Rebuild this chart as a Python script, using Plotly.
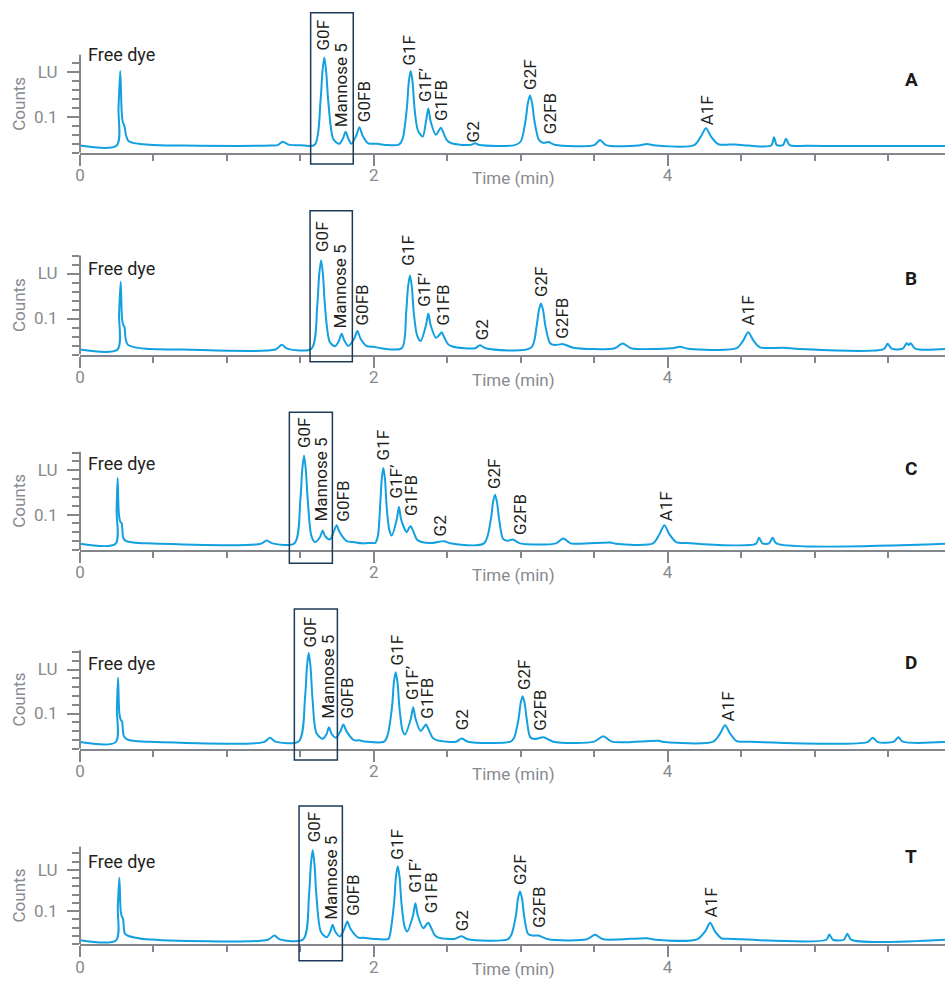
import plotly.graph_objects as go

# ---------------------------------------------------------------------------
# Chromatogram traces (retention time in min, fluorescence counts)
# ---------------------------------------------------------------------------
time_a = [0.000, 0.250, 0.262, 0.274, 0.284, 0.292, 0.302, 0.314, 0.330, 0.360, 0.410, 0.500, 0.700,
          1.300, 1.345, 1.380, 1.420, 1.500, 1.598, 1.637, 1.650, 1.663, 1.676, 1.690, 1.725, 1.765,
          1.790, 1.808, 1.826, 1.848, 1.880, 1.902, 1.924, 1.962, 2.020, 2.080, 2.170, 2.195, 2.225,
          2.238, 2.251, 2.264, 2.277, 2.300, 2.333, 2.355, 2.371, 2.387, 2.423, 2.445, 2.457, 2.472,
          2.500, 2.530, 2.600, 2.660, 2.689, 2.720, 2.960, 3.000, 3.033, 3.048, 3.063, 3.078, 3.093,
          3.125, 3.154, 3.188, 3.230, 3.500, 3.540, 3.580, 3.800, 3.858, 3.920, 4.180, 4.226, 4.261,
          4.296, 4.345, 4.459, 4.550, 4.705, 4.724, 4.743, 4.785, 4.806, 4.830, 4.950, 5.888]
counts_a = [0.036, 0.036, 0.120, 0.203, 0.110, 0.088, 0.080, 0.058, 0.046, 0.042, 0.0395, 0.0375, 0.036,
            0.036, 0.037, 0.0445, 0.038, 0.0365, 0.038, 0.135, 0.200, 0.233, 0.200, 0.135, 0.050, 0.040,
            0.052, 0.067, 0.052, 0.040, 0.058, 0.077, 0.058, 0.041, 0.040, 0.0375, 0.038, 0.050, 0.120,
            0.178, 0.203, 0.178, 0.120, 0.070, 0.056, 0.090, 0.119, 0.090, 0.060, 0.071, 0.076, 0.066,
            0.047, 0.041, 0.0375, 0.0375, 0.041, 0.037, 0.037, 0.045, 0.092, 0.130, 0.148, 0.130, 0.092,
            0.048, 0.042, 0.044, 0.038, 0.037, 0.0485, 0.037, 0.036, 0.0395, 0.036, 0.037, 0.056, 0.0747,
            0.056, 0.039, 0.0385, 0.036, 0.036, 0.0546, 0.037, 0.037, 0.051, 0.037, 0.0355, 0.035]

time_b = [0.000, 0.255, 0.266, 0.277, 0.286, 0.294, 0.302, 0.312, 0.325, 0.360, 0.450, 0.700,
          1.330, 1.373, 1.410, 1.575, 1.615, 1.628, 1.641, 1.654, 1.667, 1.700, 1.736, 1.763, 1.781,
          1.799, 1.826, 1.866, 1.888, 1.910, 1.952, 1.997, 2.050, 2.190, 2.220, 2.233, 2.246, 2.259,
          2.272, 2.295, 2.319, 2.355, 2.371, 2.387, 2.423, 2.447, 2.462, 2.477, 2.505, 2.530, 2.620,
          2.690, 2.723, 2.760, 3.070, 3.108, 3.123, 3.138, 3.153, 3.168, 3.200, 3.230, 3.290, 3.358,
          3.640, 3.694, 3.750, 4.030, 4.084, 4.140, 4.470, 4.514, 4.549, 4.584, 4.629, 4.788, 4.900,
          5.470, 5.498, 5.525, 5.600, 5.627, 5.641, 5.655, 5.685, 5.888]
counts_b = [0.031, 0.031, 0.110, 0.1815, 0.100, 0.086, 0.082, 0.052, 0.042, 0.037, 0.033, 0.031,
            0.031, 0.0415, 0.033, 0.033, 0.130, 0.197, 0.2296, 0.197, 0.130, 0.048, 0.0385, 0.051, 0.066,
            0.051, 0.039, 0.055, 0.072, 0.055, 0.0385, 0.037, 0.034, 0.034, 0.113, 0.170, 0.1956, 0.170,
            0.113, 0.062, 0.050, 0.085, 0.111, 0.085, 0.057, 0.064, 0.0696, 0.060, 0.043, 0.0385, 0.034,
            0.034, 0.0407, 0.034, 0.035, 0.083, 0.117, 0.1333, 0.117, 0.083, 0.045, 0.041, 0.043, 0.035,
            0.034, 0.0444, 0.034, 0.034, 0.037, 0.033, 0.034, 0.051, 0.0696, 0.051, 0.036, 0.035, 0.032,
            0.032, 0.0437, 0.033, 0.033, 0.045, 0.041, 0.045, 0.033, 0.032]

time_c = [0.000, 0.242, 0.249, 0.256, 0.265, 0.276, 0.284, 0.295, 0.315, 0.360, 0.450,
          1.230, 1.271, 1.310, 1.460, 1.500, 1.5125, 1.525, 1.5375, 1.550, 1.575, 1.600, 1.635, 1.652,
          1.669, 1.702, 1.728, 1.747, 1.766, 1.815, 1.860, 1.920, 1.985, 2.010, 2.028, 2.043, 2.054,
          2.065, 2.076, 2.087, 2.105, 2.122, 2.156, 2.171, 2.186, 2.224, 2.240, 2.251, 2.265, 2.295,
          2.326, 2.400, 2.478, 2.520, 2.750, 2.797, 2.811, 2.825, 2.839, 2.853, 2.880, 2.910, 2.946,
          2.995, 3.240, 3.290, 3.340, 3.608, 3.650, 3.900, 3.945, 3.978, 4.011, 4.062, 4.130, 4.200,
          4.600, 4.622, 4.645, 4.690, 4.715, 4.740, 5.888]
counts_c = [0.034, 0.034, 0.110, 0.1825, 0.100, 0.083, 0.080, 0.047, 0.040, 0.037, 0.035,
            0.034, 0.0416, 0.035, 0.035, 0.134, 0.200, 0.2333, 0.200, 0.134, 0.052, 0.038, 0.050, 0.064,
            0.051, 0.044, 0.062, 0.076, 0.061, 0.040, 0.038, 0.035, 0.036, 0.036, 0.052, 0.120, 0.180,
            0.205, 0.180, 0.120, 0.066, 0.0528, 0.089, 0.1173, 0.089, 0.060, 0.070, 0.0737, 0.065, 0.043,
            0.038, 0.036, 0.040, 0.035, 0.035, 0.090, 0.127, 0.145, 0.127, 0.090, 0.045, 0.041, 0.0438,
            0.035, 0.035, 0.046, 0.035, 0.037, 0.034, 0.035, 0.056, 0.076, 0.056, 0.037, 0.036, 0.034,
            0.034, 0.0476, 0.035, 0.035, 0.0476, 0.035, 0.034]

time_d = [0.000, 0.243, 0.251, 0.259, 0.268, 0.278, 0.286, 0.298, 0.320, 0.360, 0.450,
          1.250, 1.293, 1.330, 1.490, 1.532, 1.5445, 1.557, 1.5695, 1.582, 1.610, 1.652, 1.678, 1.695,
          1.712, 1.743, 1.773, 1.793, 1.813, 1.865, 1.900, 1.950, 2.070, 2.093, 2.124, 2.1365, 2.149,
          2.1615, 2.174, 2.195, 2.212, 2.252, 2.268, 2.284, 2.319, 2.340, 2.355, 2.370, 2.400, 2.428,
          2.500, 2.560, 2.598, 2.640, 2.930, 2.955, 2.985, 2.999, 3.013, 3.027, 3.041, 3.065, 3.095,
          3.154, 3.222, 3.500, 3.562, 3.620, 3.937, 3.980, 4.310, 4.358, 4.391, 4.424, 4.470, 4.520,
          5.360, 5.396, 5.430, 5.540, 5.571, 5.600, 5.888]
counts_d = [0.035, 0.035, 0.110, 0.181, 0.100, 0.085, 0.082, 0.049, 0.041, 0.038, 0.036,
            0.035, 0.0448, 0.036, 0.037, 0.137, 0.205, 0.238, 0.205, 0.137, 0.055, 0.0425, 0.053, 0.069,
            0.054, 0.045, 0.060, 0.075, 0.060, 0.0394, 0.039, 0.036, 0.036, 0.050, 0.115, 0.170, 0.194,
            0.170, 0.115, 0.062, 0.0523, 0.088, 0.1143, 0.088, 0.060, 0.069, 0.075, 0.066, 0.045, 0.0394,
            0.036, 0.036, 0.043, 0.036, 0.036, 0.045, 0.087, 0.123, 0.1393, 0.123, 0.087, 0.046, 0.042,
            0.046, 0.036, 0.036, 0.0485, 0.036, 0.038, 0.035, 0.036, 0.055, 0.0735, 0.055, 0.037, 0.036,
            0.035, 0.0448, 0.035, 0.036, 0.046, 0.036, 0.035]

time_t = [0.000, 0.246, 0.257, 0.268, 0.277, 0.285, 0.293, 0.305, 0.330, 0.380, 0.450,
          1.280, 1.323, 1.360, 1.520, 1.559, 1.5715, 1.584, 1.5965, 1.609, 1.640, 1.679, 1.703, 1.720,
          1.737, 1.770, 1.800, 1.820, 1.840, 1.895, 1.930, 2.000, 2.100, 2.108, 2.138, 2.1505, 2.163,
          2.1755, 2.188, 2.210, 2.228, 2.267, 2.283, 2.299, 2.337, 2.356, 2.371, 2.386, 2.415, 2.439,
          2.550, 2.598, 2.640, 2.910, 2.935, 2.967, 2.981, 2.995, 3.009, 3.023, 3.050, 3.080, 3.120,
          3.188, 3.450, 3.506, 3.560, 3.858, 3.920, 4.200, 4.257, 4.289, 4.321, 4.368, 4.410, 5.080,
          5.101, 5.125, 5.200, 5.223, 5.250, 5.888]
counts_t = [0.030, 0.030, 0.110, 0.181, 0.100, 0.087, 0.082, 0.046, 0.040, 0.036, 0.032,
            0.031, 0.0413, 0.032, 0.032, 0.139, 0.212, 0.248, 0.212, 0.139, 0.050, 0.037, 0.050, 0.067,
            0.051, 0.039, 0.058, 0.075, 0.058, 0.036, 0.036, 0.033, 0.033, 0.040, 0.120, 0.182, 0.2087,
            0.182, 0.120, 0.062, 0.051, 0.090, 0.1193, 0.090, 0.0589, 0.067, 0.072, 0.063, 0.042, 0.036,
            0.033, 0.0396, 0.032, 0.032, 0.042, 0.089, 0.130, 0.1476, 0.130, 0.089, 0.045, 0.041, 0.0413,
            0.032, 0.032, 0.043, 0.032, 0.0348, 0.031, 0.032, 0.052, 0.072, 0.052, 0.034, 0.0335, 0.031,
            0.0437, 0.031, 0.031, 0.0454, 0.031, 0.031]

# ---------------------------------------------------------------------------
# Peak annotations: glycan names, and where each name sits (time, counts)
# ---------------------------------------------------------------------------
peak_names = ["G0F", "Mannose 5", "G0FB", "G1F", "G1F\u2019", "G1FB", "G2", "G2F", "G2FB", "A1F"]

label_time_a = [1.656, 1.777, 1.929, 2.242, 2.353, 2.457, 2.673, 3.059, 3.204, 4.266]
label_counts_a = [0.246, 0.0747, 0.0859, 0.2125, 0.1306, 0.0895, 0.0412, 0.158, 0.0597, 0.0783]
label_time_b = [1.652, 1.770, 1.918, 2.235, 2.342, 2.469, 2.734, 3.143, 3.279, 4.549]
label_counts_b = [0.246, 0.0756, 0.0829, 0.2149, 0.1238, 0.0829, 0.0496, 0.1459, 0.0533, 0.0829]
label_time_c = [1.525, 1.638, 1.792, 2.060, 2.151, 2.258, 2.451, 2.818, 2.995, 3.989]
label_counts_c = [0.2467, 0.0812, 0.0812, 0.2203, 0.1339, 0.0948, 0.0474, 0.1564, 0.0526, 0.0826]
label_time_d = [1.566, 1.690, 1.815, 2.156, 2.258, 2.360, 2.598, 3.018, 3.131, 4.413]
label_counts_d = [0.247, 0.0864, 0.0864, 0.2075, 0.128, 0.0864, 0.0598, 0.1507, 0.0598, 0.0803]
label_time_t = [1.593, 1.713, 1.856, 2.156, 2.280, 2.389, 2.598, 2.995, 3.127, 4.293]
label_counts_t = [0.2628, 0.0758, 0.0872, 0.2225, 0.142, 0.0937, 0.0493, 0.162, 0.0575, 0.0816]

# "Free dye" label height (counts) per run
free_dye_counts = [0.240, 0.211, 0.215, 0.2136, 0.220]

# Window around G0F / Mannose 5 (time span, counts span)
window_time = [[1.570, 1.860], [1.566, 1.854], [1.425, 1.718], [1.459, 1.752], [1.491, 1.786]]
window_counts = [[-0.0053, 0.333], [0.004, 0.3396], [-0.010, 0.3308], [-0.0057, 0.3375], [-0.0196, 0.354]]

panel_names = ["A", "B", "C", "D", "T"]
panel_name_counts = [0.183, 0.190, 0.203, 0.215, 0.233]

x_major_ticks = [0, 2, 4]
x_minor_ticks = [0.5, 1.0, 1.5, 2.5, 3.0, 3.5, 4.5, 5.0, 5.5]
y_major_ticks = [0.1, 0.2]
y_major_text = ["0.1", "LU"]
y_minor_ticks = [0.02, 0.04, 0.06, 0.08, 0.12, 0.14, 0.16, 0.18, 0.22, 0.24]
y_axis_top = [0.239, 0.240, 0.242, 0.244, 0.256]

TIME_MAX = 5.888
Y_LO, Y_HI = 0.02, 0.32

# ---------------------------------------------------------------------------
# Layout geometry (pixels in the 945 x 984 page)
# ---------------------------------------------------------------------------
W, H = 945, 984
PLOT_LEFT = 80
axis_line_px = [152.7, 354.5, 550.0, 748.7, 944.3]   # x-axis line of each run
px_per_count = [447, 450, 443, 440, 414]             # vertical scale of each run

LINE_BLUE = "#12a0e0"
AXIS_GRAY = "#83878b"
TEXT_GRAY = "#878a8e"
INK = "#231f20"
BOX_NAVY = "#1d3a57"
FONT = "Roboto, 'Open Sans', sans-serif"

runs = [
    (time_a, counts_a, label_time_a, label_counts_a),
    (time_b, counts_b, label_time_b, label_counts_b),
    (time_c, counts_c, label_time_c, label_counts_c),
    (time_d, counts_d, label_time_d, label_counts_d),
    (time_t, counts_t, label_time_t, label_counts_t),
]

fig = go.Figure()
annotations = []
shapes = []
layout_axes = {}

for i, (t, c, lt, lc) in enumerate(runs):
    n = "" if i == 0 else str(i + 1)
    xa, ya = "x" + n, "y" + n

    fig.add_trace(go.Scatter(
        x=t, y=c, xaxis=xa, yaxis=ya, mode="lines",
        line=dict(color=LINE_BLUE, width=2, shape="spline", smoothing=0.8),
        hoverinfo="skip", showlegend=False,
    ))

    bottom = 1 - axis_line_px[i] / H
    top = bottom + (Y_HI - Y_LO) * px_per_count[i] / H

    layout_axes["xaxis" + n] = dict(
        domain=[PLOT_LEFT / W, 1.0], range=[0, TIME_MAX], anchor=ya, automargin=False,
        showline=True, linecolor=AXIS_GRAY, linewidth=2,
        showgrid=False, zeroline=False,
        ticks="outside", tickmode="array", tickvals=x_major_ticks,
        ticktext=[str(v) for v in x_major_ticks],
        ticklen=11, tickwidth=2, tickcolor=AXIS_GRAY, ticklabelstandoff=-5,
        tickfont=dict(family=FONT, size=17, color=TEXT_GRAY),
        minor=dict(tickmode="array", tickvals=x_minor_ticks, ticks="outside",
                   ticklen=6, tickwidth=2, tickcolor=AXIS_GRAY),
        fixedrange=True,
    )
    layout_axes["yaxis" + n] = dict(
        domain=[bottom, top], range=[Y_LO, Y_HI], anchor=xa, automargin=False,
        showline=False, showgrid=False, zeroline=False,
        ticks="outside", tickmode="array", tickvals=y_major_ticks, ticktext=y_major_text,
        ticklen=12, tickwidth=2, tickcolor=AXIS_GRAY, ticklabelstandoff=6,
        tickfont=dict(family=FONT, size=17, color=TEXT_GRAY),
        minor=dict(tickmode="array", tickvals=[v for v in y_minor_ticks if v <= y_axis_top[i] + 1e-9],
                   ticks="outside", ticklen=7, tickwidth=2, tickcolor=AXIS_GRAY),
        fixedrange=True,
    )

    # vertical counts axis, drawn only over the calibrated span
    shapes.append(dict(type="line", xref=xa + " domain", yref=ya, x0=0, x1=0,
                       y0=Y_LO, y1=y_axis_top[i], line=dict(color=AXIS_GRAY, width=2)))

    # window around G0F / Mannose 5
    w0, w1 = window_counts[i]
    shapes.append(dict(type="rect", xref=xa, yref=ya + " domain",
                       x0=window_time[i][0], x1=window_time[i][1],
                       y0=(w0 - Y_LO) / (Y_HI - Y_LO), y1=(w1 - Y_LO) / (Y_HI - Y_LO),
                       line=dict(color=BOX_NAVY, width=1.5), fillcolor="rgba(0,0,0,0)"))

    # peak names, rotated
    for name, px, py in zip(peak_names, lt, lc):
        annotations.append(dict(
            x=px, y=py, xref=xa, yref=ya, text=name, showarrow=False,
            textangle=-90, xanchor="center", yanchor="bottom", borderpad=0,
            font=dict(family=FONT, size=17, color=INK),
        ))

    annotations.append(dict(
        x=0.039, y=free_dye_counts[i], xref=xa, yref=ya, text="Free dye", showarrow=False,
        xanchor="left", yanchor="middle", font=dict(family=FONT, size=18, color=INK),
    ))

    # y-axis title
    annotations.append(dict(
        x=19 / W, y=(Y_LO + y_axis_top[i]) / 2, xref="paper", yref=ya, text="Counts",
        showarrow=False, textangle=-90, xanchor="center", yanchor="middle",
        font=dict(family=FONT, size=17, color=TEXT_GRAY),
    ))

    # x-axis title
    annotations.append(dict(
        x=513 / W, y=Y_LO, xref="paper", yref=ya, yshift=-25, text="Time (min)",
        showarrow=False, xanchor="center", yanchor="middle",
        font=dict(family=FONT, size=17, color=TEXT_GRAY),
    ))

    # run letter
    annotations.append(dict(
        x=911 / W, y=panel_name_counts[i], xref="paper", yref=ya,
        text="<b>" + panel_names[i] + "</b>", showarrow=False,
        xanchor="center", yanchor="middle", font=dict(family=FONT, size=19, color="#1a1a1a"),
    ))

fig.update_layout(
    width=W, height=H, margin=dict(l=0, r=0, t=0, b=0, autoexpand=False),
    paper_bgcolor="white", plot_bgcolor="white",
    showlegend=False, annotations=annotations, shapes=shapes,
    **layout_axes,
)

fig.write_html("out.html")
